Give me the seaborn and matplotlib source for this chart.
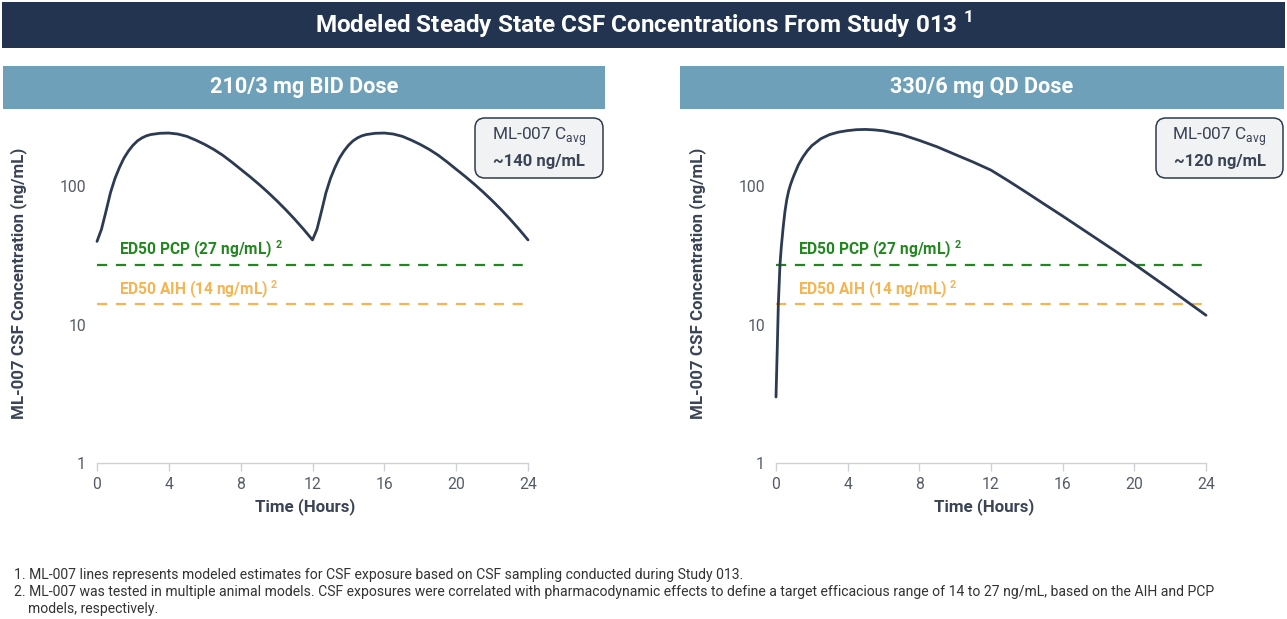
import numpy as np
import pandas as pd
import matplotlib
matplotlib.use("Agg")
import matplotlib.pyplot as plt
from matplotlib.patches import FancyBboxPatch, Rectangle
import seaborn as sns

# ---------------- data ----------------
bid_hours = [0, 0.25, 0.5, 0.75, 1.0, 1.25, 1.5, 1.75, 2.0, 2.25, 2.5, 2.75, 3.0, 3.5, 4.0,
             4.5, 5.0, 5.5, 6.0, 6.5, 7.0, 7.5, 8.0, 8.5, 9.0, 9.5, 10.0, 10.5, 11.0, 11.5, 12.0,
             12.25, 12.5, 12.75, 13.0, 13.25, 13.5, 13.75, 14.0, 14.25, 14.5, 14.75, 15.0, 15.5, 16.0,
             16.5, 17.0, 17.5, 18.0, 18.5, 19.0, 19.5, 20.0, 20.5, 21.0, 21.5, 22.0, 22.5, 23.0, 23.5, 24.0]
bid_conc = [40, 49, 66, 90, 114, 137, 160, 180, 198, 213, 224, 232, 237, 242, 243,
            239, 230, 216, 201, 185, 168, 150, 133, 118, 104, 91, 79, 68, 58, 49, 41,
            49, 66, 90, 114, 137, 160, 180, 198, 213, 224, 232, 237, 242, 243,
            239, 230, 216, 201, 185, 168, 150, 133, 118, 104, 91, 79, 68, 58, 49, 41]

qd_hours = [0, 0.07, 0.13, 0.22, 0.3, 0.41, 0.5, 0.6, 0.7, 0.8, 0.9, 1.0, 1.25, 1.5, 1.75,
            2.0, 2.5, 3.0, 3.5, 4.0, 4.5, 5.0, 5.5, 6.0, 7.0, 8.0, 9.0, 10.0, 11.0, 12.0,
            13.0, 14.0, 15.0, 16.0, 17.0, 18.0, 19.0, 20.0, 21.0, 22.0, 23.0, 24.0]
qd_conc = [3.0, 6.7, 14, 27, 37, 52, 66, 80, 92, 102, 111, 120, 143, 163, 181,
           197, 221, 237, 247, 253, 257, 258, 256, 252, 237, 215, 193, 170, 150, 131,
           109, 90, 74, 61, 50, 41, 33.6, 27.4, 22.2, 18.0, 14.5, 11.7]

ed50_pcp = 27
ed50_aih = 14
x_ticks = [0, 4, 8, 12, 16, 20, 24]
y_ticks = [1, 10, 100]
y_ticklabels = ["1", "10", "100"]

title = "Modeled Steady State CSF Concentrations From Study 013"
panel_titles = ["210/3 mg BID Dose", "330/6 mg QD Dose"]
cavg_values = ["~140 ng/mL", "~120 ng/mL"]
footnotes = [
    "1. ML-007 lines represents modeled estimates for CSF exposure based on CSF sampling conducted during Study 013.",
    "2. ML-007 was tested in multiple animal models. CSF exposures were correlated with pharmacodynamic effects to define a target efficacious range of 14 to 27 ng/mL, based on the AIH and PCP",
    "    models, respectively.",
]

# ---------------- style ----------------
sns.set_theme(style="white")
plt.rcParams['font.family'] = ['Roboto', 'DejaVu Sans']
plt.rcParams['mathtext.fontset'] = 'custom'
plt.rcParams['mathtext.rm'] = 'Roboto'

NAVY = "#22344f"
STEEL = "#6fa0b9"
CURVE = "#2c3a52"
GREEN = "#23871f"
ORANGE = "#f4b552"
TICK = "#555c68"
LABEL = "#3a4455"

W, H = 1287, 619
fig = plt.figure(figsize=(W / 100, H / 100), dpi=100)
fig.patch.set_facecolor("white")


def fx(x):
    return x / W


def fy(y):
    return 1 - y / H


# title banner
fig.add_artist(Rectangle((fx(2), fy(48)), fx(1283), 46 / H, transform=fig.transFigure,
                         facecolor=NAVY, edgecolor="none"))
fig.text(fx(643), fy(25), title + r" $^{\mathregular{1}}$", color="white", fontsize=17.5,
         fontweight="bold", ha="center", va="center")

# panel banners
for (x0, x1), t in zip([(3, 605), (680, 1284)], panel_titles):
    fig.add_artist(Rectangle((fx(x0), fy(109)), fx(x1 - x0), 43 / H, transform=fig.transFigure,
                             facecolor=STEEL, edgecolor="none"))
    fig.text(fx((x0 + x1) / 2), fy(87.5), t, color="white", fontsize=15.6,
             fontweight="bold", ha="center", va="center")

ylog_top = 2.516
ymax = 10 ** ylog_top
axes_px = [(97, 528), (776, 1206)]
ylabel_x = [27, 706]
series = [(bid_hours, bid_conc), (qd_hours, qd_conc)]
boxes = [(475, 603), (1156, 1283)]

for i in range(2):
    x0, x1 = axes_px[i]
    ax = fig.add_axes([fx(x0), fy(463), fx(x1 - x0), 348 / H])
    ax.set_facecolor("none")
    hrs, conc = series[i]
    df = pd.DataFrame({"Time": hrs, "Conc": conc})
    sns.lineplot(data=df, x="Time", y="Conc", ax=ax, color=CURVE, linewidth=2.0,
                 clip_on=False, zorder=5)
    ref = pd.DataFrame({"Time": [0, 24, 0, 24],
                        "Conc": [ed50_pcp, ed50_pcp, ed50_aih, ed50_aih],
                        "Target": ["PCP", "PCP", "AIH", "AIH"]})
    sns.lineplot(data=ref, x="Time", y="Conc", hue="Target",
                 palette={"PCP": GREEN, "AIH": ORANGE}, ax=ax, linewidth=1.6,
                 dashes=False, legend=False, zorder=3)
    for ln in ax.get_lines()[1:]:
        ln.set_dashes((4.6, 3.9))
    ax.set_yscale("log")
    ax.set_xlim(0, 24)
    ax.set_ylim(1, ymax)
    ax.set_xticks(x_ticks)
    ax.set_xticklabels([str(v) for v in x_ticks])
    ax.set_yticks(y_ticks)
    ax.set_yticklabels(y_ticklabels)
    ax.yaxis.set_minor_locator(matplotlib.ticker.NullLocator())
    for s in ["top", "right", "left"]:
        ax.spines[s].set_visible(False)
    ax.spines["bottom"].set_color("#cdd2d8")
    ax.spines["bottom"].set_linewidth(1.0)
    ax.tick_params(axis="x", which="major", length=6, width=1.0, color="#cdd2d8",
                   labelsize=11.3, labelcolor=TICK, pad=4, direction="out", bottom=True)
    ax.tick_params(axis="y", which="major", length=0, labelsize=11.3, labelcolor=TICK, pad=8)
    ax.set_xlabel("Time (Hours)", fontsize=12.2, fontweight="semibold", color=LABEL)
    ax.xaxis.set_label_coords(0.5 - 7 / (x1 - x0), -35 / 348)
    ax.set_ylabel("ML-007 CSF Concentration (ng/mL)", fontsize=12.2, fontweight="semibold",
                  color=LABEL)
    ax.yaxis.set_label_coords((ylabel_x[i] - x0) / (x1 - x0), 0.5 + 6 / 348)
    ax.grid(False)

    ax.text(1.2, 34.5, r"ED50 PCP (27 ng/mL) $^{\mathregular{2}}$", color=GREEN, fontsize=11.2,
            fontweight="semibold", ha="left", va="center")
    ax.text(1.2, 17.8, r"ED50 AIH (14 ng/mL) $^{\mathregular{2}}$", color=ORANGE, fontsize=11.2,
            fontweight="semibold", ha="left", va="center")

    bx0, bx1 = boxes[i]
    fig.add_artist(FancyBboxPatch((fx(bx0 + 8), fy(178 - 8)), fx(bx1 - bx0 - 16), (60 - 16) / H,
                                  boxstyle=f"round,pad={8 / W},rounding_size={10 / W}",
                                  transform=fig.transFigure, facecolor="#f1f2f4",
                                  edgecolor="#2f3b4c", linewidth=1.1,
                                  mutation_aspect=W / H))
    fig.text(fx((bx0 + bx1) / 2), fy(137), r"ML-007 C$_{\mathregular{avg}}$", color=LABEL,
             fontsize=12.4, ha="center", va="center")
    fig.text(fx((bx0 + bx1) / 2), fy(161), cavg_values[i], color=LABEL, fontsize=12,
             fontweight="bold", ha="center", va="center")

for k, line in enumerate(footnotes):
    fig.text(fx(14), fy(575 + 17 * k), line, color="#333333", fontsize=10.1,
             ha="left", va="center")

fig.savefig("out.png", dpi=100, facecolor="white")
